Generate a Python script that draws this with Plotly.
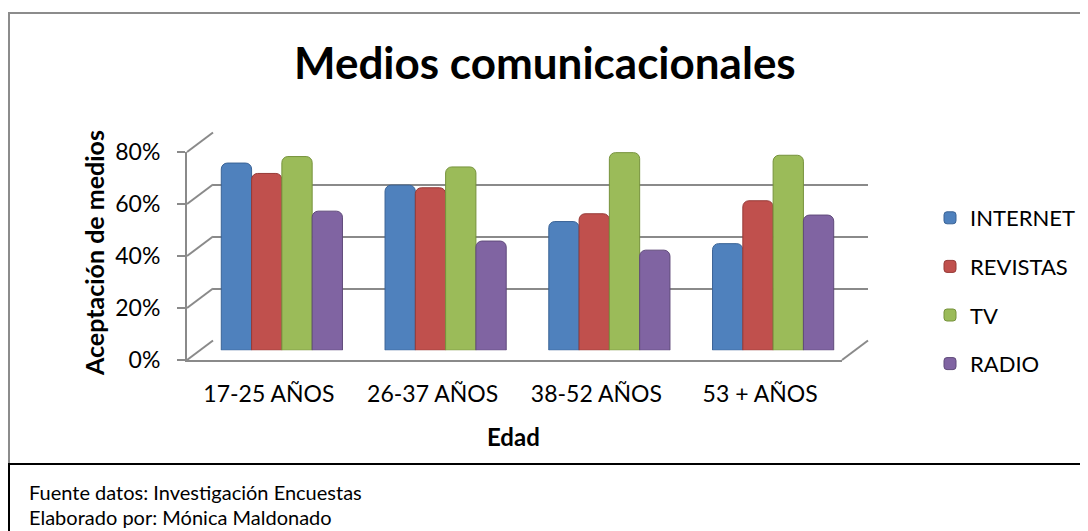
import plotly.graph_objects as go

# ---------------- data ----------------
categories = ["17-25 AÑOS", "26-37 AÑOS", "38-52 AÑOS", "53 + AÑOS"]
internet = [0.72, 0.635, 0.495, 0.41]
revistas = [0.68, 0.625, 0.525, 0.575]
tv = [0.745, 0.705, 0.76, 0.75]
radio = [0.535, 0.42, 0.385, 0.52]
series_names = ["INTERNET", "REVISTAS", "TV", "RADIO"]
y_ticks = [0, 0.2, 0.4, 0.6, 0.8]
y_tick_labels = ["0%", "20%", "40%", "60%", "80%"]

title_text = "Medios comunicacionales"
y_title = "Aceptación de medios"
x_title = "Edad"
footer_lines = ["Fuente datos: Investigación Encuestas", "Elaborado por: Mónica Maldonado"]

# ---------------- styling ----------------
colors = ["#4F81BD", "#C0504D", "#9BBB59", "#8064A2"]
edge_colors = ["#3A6396", "#963A37", "#76923C", "#5F4A7A"]
FONT = "Lato"
PAGE_W, PAGE_H = 1088, 531
BODY = 8                     # default page body margin
W, H = PAGE_W - BODY, PAGE_H - BODY
GRID = "#8A8A8A"

# plot geometry (page pixels): front plane, offset to back plane (pseudo-3D)
FX0, FW = 187, 655          # front x start, width
FY_TOP, FY_BOT = 152, 360   # front y for max / zero
DX, DY = 26, 19.5           # depth offset


def px(x):
    return (x - BODY) / W


def py(y):
    return 1 - (y - BODY) / H


def dom_x(off):
    return [px(FX0 + off), px(FX0 + FW + off)]


def dom_y(off):
    return [py(FY_BOT - off), py(FY_TOP - off)]


fig = go.Figure()

# carrier traces (draw nothing) so the back-wall and front axes are rendered
for ax_x, ax_y in (("x", "y"), ("x3", "y3")):
    fig.add_trace(go.Scatter(x=categories, y=tv, mode="none", showlegend=False,
                             hoverinfo="skip", xaxis=ax_x, yaxis=ax_y))

values = [internet, revistas, tv, radio]
for name, vals, c, ec in zip(series_names, values, colors, edge_colors):
    fig.add_trace(go.Bar(
        x=categories, y=vals, name=name, legendgroup=name,
        marker=dict(color=c, line=dict(color=ec, width=1), cornerradius=6),
        xaxis="x2", yaxis="y2",
    ))

ymax = 0.8
fig.update_layout(
    width=W, height=H,
    margin=dict(l=0, r=0, t=0, b=0, autoexpand=False),
    paper_bgcolor="white",
    plot_bgcolor="rgba(0,0,0,0)",
    font=dict(family=FONT, color="black"),
    barmode="group", bargap=0.26, bargroupgap=0,
    # back wall (gridlines)
    xaxis=dict(domain=dom_x(DX), anchor="y", visible=False, type="category",
               range=[-0.5, 3.5]),
    yaxis=dict(domain=dom_y(DY), anchor="x", range=[0, ymax], tickvals=y_ticks,
               showgrid=True, gridcolor=GRID, gridwidth=2, zeroline=False,
               showticklabels=False, ticks="", showline=False),
    # bars (mid depth)
    xaxis2=dict(domain=dom_x(DX / 2), anchor="y2", visible=False, type="category",
                range=[-0.5, 3.5]),
    yaxis2=dict(domain=dom_y(DY / 2), anchor="x2", visible=False, range=[0, ymax]),
    # front axes (labels)
    xaxis3=dict(domain=dom_x(0), anchor="y3", type="category", range=[-0.5, 3.5],
                showline=True, linecolor=GRID, linewidth=2, showgrid=False,
                ticks="", ticklabelstandoff=12,
                tickfont=dict(family=FONT, size=23, color="black")),
    yaxis3=dict(domain=dom_y(0), anchor="x3", range=[0, ymax],
                tickvals=y_ticks, ticktext=y_tick_labels,
                showline=True, linecolor=GRID, linewidth=2, showgrid=False,
                zeroline=False, ticks="outside", ticklen=8, tickwidth=2,
                tickcolor=GRID, ticklabelstandoff=12,
                tickfont=dict(family=FONT, size=23, color="black")),
    legend=dict(x=px(930), y=py(197), xanchor="left", yanchor="top",
                font=dict(family=FONT, size=22, color="black"),
                tracegroupgap=17, itemwidth=30, bgcolor="rgba(0,0,0,0)"),
    showlegend=True,
)
fig.update_xaxes(automargin=False)
fig.update_yaxes(automargin=False)

# ---------------- pseudo-3D frame ----------------
shapes = []
fy_span = FY_BOT - FY_TOP
for t in y_ticks:
    yf = FY_BOT - t / ymax * fy_span
    shapes.append(dict(type="line", xref="paper", yref="paper",
                       x0=px(FX0), y0=py(yf), x1=px(FX0 + DX), y1=py(yf - DY),
                       line=dict(color=GRID, width=2), layer="below"))
# right floor edge
shapes.append(dict(type="line", xref="paper", yref="paper",
                   x0=px(FX0 + FW), y0=py(FY_BOT), x1=px(FX0 + FW + DX), y1=py(FY_BOT - DY),
                   line=dict(color=GRID, width=2), layer="below"))
# chart border (gray) and table borders (black)
shapes += [
    dict(type="line", xref="paper", yref="paper", x0=px(8), y0=py(13), x1=1, y1=py(13),
         line=dict(color="#8C8C8C", width=2)),
    dict(type="line", xref="paper", yref="paper", x0=px(9), y0=py(13), x1=px(9), y1=py(464),
         line=dict(color="#8C8C8C", width=2)),
    dict(type="line", xref="paper", yref="paper", x0=px(8), y0=py(464), x1=1, y1=py(464),
         line=dict(color="black", width=2)),
    dict(type="line", xref="paper", yref="paper", x0=px(9), y0=py(464), x1=px(9), y1=0,
         line=dict(color="black", width=2)),
]
fig.update_layout(shapes=shapes)

# ---------------- texts ----------------
ann = [
    dict(text=f"<b>{title_text}</b>", x=px(545), y=py(62), xref="paper", yref="paper",
         showarrow=False, xanchor="center", yanchor="middle",
         font=dict(family=FONT, size=44, color="black")),
    dict(text=f"<b>{y_title}</b>", x=px(94), y=py(253), xref="paper", yref="paper",
         showarrow=False, textangle=-90, xanchor="center", yanchor="middle",
         font=dict(family=FONT, size=25, color="black")),
    dict(text=f"<b>{x_title}</b>", x=px(513), y=py(436), xref="paper", yref="paper",
         showarrow=False, xanchor="center", yanchor="middle",
         font=dict(family=FONT, size=24, color="black")),
]
for i, line in enumerate(footer_lines):
    ann.append(dict(text=line, x=px(27), y=py(492 + 25 * i), xref="paper", yref="paper",
                    showarrow=False, xanchor="left", yanchor="middle",
                    font=dict(family=FONT, size=20, color="black")))
fig.update_layout(annotations=ann)

fig.write_html("out.html", config={"displayModeBar": False})
